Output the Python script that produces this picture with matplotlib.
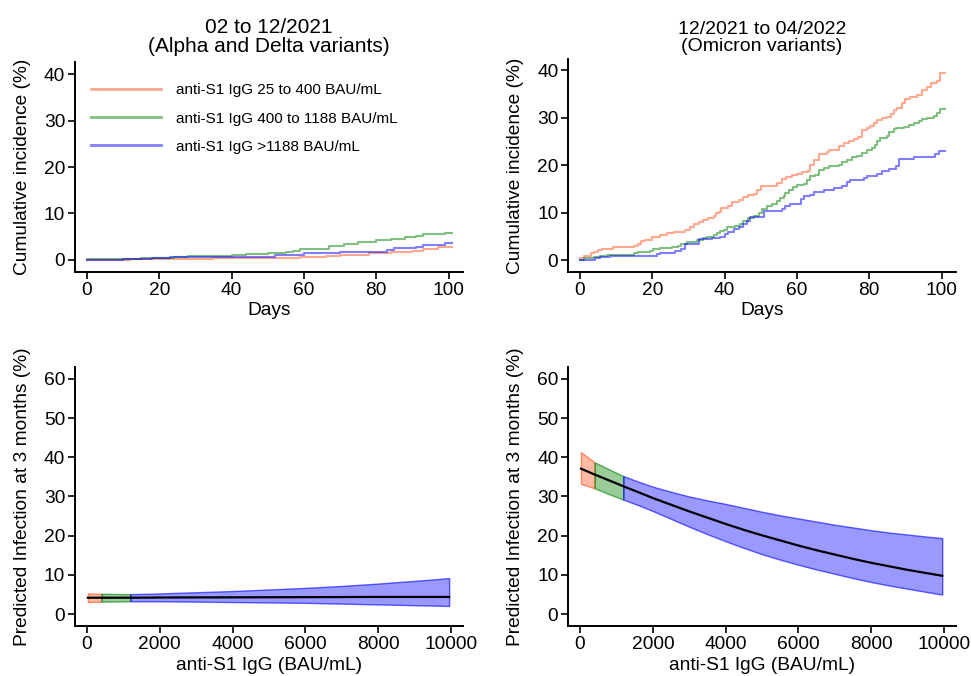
import numpy as np
import matplotlib
matplotlib.use("Agg")
from matplotlib import pyplot as plt

plt.rcParams['font.family'] = ['Liberation Sans', 'DejaVu Sans']

# --- cumulative incidence, 02 to 12/2021 (day, %) step points
alpha_low_days = [0, 12, 35, 59, 66, 70, 78, 84, 90, 93, 97, 101]
alpha_low_vals = [0.0, 0.1, 0.4, 0.6, 0.8, 1.1, 1.5, 1.7, 2.0, 2.4, 2.7, 2.7]
alpha_mid_days = [0, 3, 11, 15, 22, 24, 28, 37, 40, 44, 50, 55, 57, 59, 67, 71, 75, 80, 84, 88, 91, 93, 99, 101]
alpha_mid_vals = [0.1, 0.2, 0.3, 0.4, 0.5, 0.6, 0.8, 0.9, 1.1, 1.3, 1.5, 1.7, 2.0, 2.4, 3.0, 3.4, 3.8, 4.3, 4.6, 4.9, 5.2, 5.6, 5.8, 5.8]
alpha_high_days = [0, 10, 18, 23, 35, 52, 60, 70, 78, 83, 85, 91, 93, 99, 101]
alpha_high_vals = [0.0, 0.2, 0.4, 0.6, 0.7, 1.0, 1.5, 1.7, 1.8, 2.1, 2.5, 2.8, 3.3, 3.6, 3.6]

# --- cumulative incidence, 12/2021 to 04/2022
omi_low_days = [0, 1, 3, 4, 5, 6, 9, 15, 16, 17, 18, 20, 22, 24, 26, 29, 30.5, 31.5, 33, 34, 35.5, 37, 37.5,
                38.5, 39, 41, 42, 44, 45, 46.5, 48, 49, 50, 54.5, 56, 57, 58.6, 60, 61.4, 63, 63.7, 64.6, 66,
                68.3, 69, 71.5, 73, 74.3, 75.7, 77, 78, 79.4, 80.3, 81.3, 82.2, 83.6, 85, 85.9, 86.8, 87.7,
                89, 90, 91.4, 93.3, 94.6, 96, 97, 98.8, 99.7, 101]
omi_low_vals = [0.5, 0.8, 1.4, 1.8, 2.1, 2.4, 2.7, 3.0, 3.5, 4.0, 4.3, 4.8, 5.3, 5.7, 6.0, 6.3, 6.9, 7.6, 8.0, 8.4,
                8.8, 9.2, 9.9, 10.2, 10.9, 11.3, 12.3, 12.7, 13.3, 13.7, 14.0, 14.7, 15.7, 16.3, 17.1, 17.4,
                17.9, 18.2, 18.5, 18.7, 20.0, 21.0, 22.4, 22.7, 23.2, 24.0, 24.6, 25.0, 25.4, 25.9, 27.3, 27.8,
                28.3, 28.8, 29.4, 29.8, 30.2, 30.7, 31.5, 32.1, 33.0, 34.0, 34.4, 34.8, 35.8, 36.5, 37.2, 37.7,
                39.3, 39.3]
omi_mid_days = [0, 1, 4, 5.5, 7.4, 15, 16, 19.5, 20.3, 22, 25.4, 27, 28, 29.5, 32.3, 34, 35, 37, 38, 38.8, 39.7,
                40.6, 43, 44.3, 45.2, 46.6, 48, 49.4, 50.3, 51.7, 53, 54.5, 55.4, 56.3, 56.8, 57.7, 59, 60, 62,
                62.8, 63.7, 65, 66, 67.4, 68.8, 71.6, 72.5, 73.9, 75.3, 76.6, 78, 79.4, 80.8, 81.7, 82.2, 83,
                85, 85.4, 86.8, 87.3, 89.6, 91, 92.3, 93.7, 94.6, 96, 97.8, 98.8, 99.7, 101]
omi_mid_vals = [0.1, 0.4, 0.7, 0.9, 1.1, 1.4, 1.7, 2.0, 2.3, 2.6, 2.7, 3.0, 3.5, 3.9, 4.2, 4.6, 4.9, 5.3, 5.7, 6.1,
                6.4, 6.9, 7.2, 7.7, 8.3, 8.9, 9.3, 10.0, 10.8, 11.3, 11.9, 12.5, 13.1, 13.5, 14.2, 14.7, 15.3,
                15.8, 16.1, 16.9, 17.6, 18.0, 19.0, 19.3, 19.8, 20.1, 20.6, 21.0, 21.6, 21.9, 22.6, 23.1, 23.5,
                24.3, 25.1, 25.7, 26.2, 26.9, 27.5, 27.8, 28.1, 28.5, 28.8, 29.2, 29.6, 29.9, 30.3, 31.0, 31.7,
                31.7]
omi_high_days = [0, 4.2, 5.5, 8.3, 21.2, 22, 26.3, 28, 29, 33, 36.5, 38.8, 40.2, 41, 42.5, 43.9, 45.2, 46.2, 47,
                 50.8, 56, 56.8, 58.2, 61, 61.9, 63.7, 64.6, 67.4, 70.2, 72.5, 73.9, 74.8, 78.5, 79.4, 82.2,
                 83.6, 85.4, 87.3, 88.2, 92.3, 98.3, 99.3, 101]
omi_high_vals = [0.0, 0.4, 0.7, 0.8, 1.2, 1.5, 2.0, 2.3, 3.4, 4.4, 4.6, 4.9, 5.4, 6.0, 6.5, 7.0, 7.5, 8.3, 9.0,
                 10.3, 10.7, 11.3, 11.9, 12.9, 13.4, 13.8, 14.3, 14.7, 15.2, 15.7, 16.4, 16.9, 17.3, 17.8, 18.2,
                 18.7, 19.2, 19.9, 21.3, 21.8, 22.4, 22.9, 22.9]

# --- predicted infection at 3 months vs anti-S1 IgG
igg = [25, 400, 800, 1188, 1600, 2000, 2500, 3000, 3500, 4000, 4500, 5000, 5500, 6000, 6500, 7000,
       7500, 8000, 8500, 9000, 9500, 9950]
ad_pred = [4.2, 4.2, 4.2, 4.2, 4.22, 4.25, 4.27, 4.28, 4.29, 4.3, 4.31, 4.32, 4.33, 4.35, 4.36, 4.37,
           4.38, 4.4, 4.4, 4.4, 4.4, 4.4]
ad_upper = [5.3, 5.2, 5.15, 5.1, 5.2, 5.3, 5.45, 5.6, 5.75, 5.9, 6.1, 6.3, 6.5, 6.7, 6.95, 7.2, 7.5,
            7.8, 8.15, 8.5, 8.85, 9.2]
ad_lower = [3.1, 3.2, 3.25, 3.3, 3.3, 3.3, 3.25, 3.2, 3.15, 3.1, 3.05, 3.0, 2.95, 2.9, 2.8, 2.7, 2.6,
            2.5, 2.4, 2.3, 2.2, 2.1]
om_pred = [37.1, 35.6, 34.1, 32.6, 31.1, 29.6, 27.9, 26.2, 24.6, 23.0, 21.5, 20.1, 18.8, 17.5, 16.3, 15.2,
           14.1, 13.1, 12.2, 11.3, 10.5, 9.8]
om_upper = [41.3, 38.7, 36.9, 35.2, 33.8, 32.5, 31.2, 30.0, 29.0, 28.1, 27.1, 26.1, 25.2, 24.4, 23.6, 22.8,
            22.1, 21.4, 20.8, 20.3, 19.8, 19.4]
om_lower = [33.2, 32.1, 30.6, 29.2, 27.8, 26.3, 24.3, 22.3, 20.4, 18.6, 16.9, 15.3, 13.9, 12.6, 11.4, 10.3,
            9.2, 8.2, 7.3, 6.5, 5.7, 5.0]
cut_low, cut_high = 400, 1188

groups = ['anti-S1 IgG 25 to 400 BAU/mL', 'anti-S1 IgG 400 to 1188 BAU/mL', 'anti-S1 IgG >1188 BAU/mL']
colors = [(1.0, 0.33, 0.12), (0.0, 0.5, 0.0), (0.0, 0.0, 1.0)]

FS = 13.8


def style(ax):
    for s in ['top', 'right']:
        ax.spines[s].set_visible(False)
    for s in ['left', 'bottom']:
        ax.spines[s].set_linewidth(1.4)
        ax.spines[s].set_color('black')
    ax.tick_params(direction='out', length=5, width=1.2, labelsize=FS, colors='black', pad=2)


fig = plt.figure(figsize=(9.71, 6.76), dpi=100)
W = 0.3996
ax1 = fig.add_axes([0.0772, 0.5976, W, 0.3107])
ax2 = fig.add_axes([0.585, 0.5976, W, 0.315])
ax3 = fig.add_axes([0.0772, 0.074, W, 0.3831])
ax4 = fig.add_axes([0.585, 0.074, W, 0.3831])

# top row: Kaplan-Meier style steps
for ax, sets in [(ax1, [(alpha_low_days, alpha_low_vals), (alpha_mid_days, alpha_mid_vals),
                        (alpha_high_days, alpha_high_vals)]),
                 (ax2, [(omi_low_days, omi_low_vals), (omi_mid_days, omi_mid_vals),
                        (omi_high_days, omi_high_vals)])]:
    for (d, v), c, lab in zip(sets, colors, groups):
        ax.step(d, v, where='post', color=c, alpha=0.5, lw=1.5, label=lab)
    ax.set_xlim(-3.3, 104)
    ax.set_xticks([0, 20, 40, 60, 80, 100])
    ax.set_yticks([0, 10, 20, 30, 40])
    ax.set_xlabel('Days', fontsize=FS, labelpad=2)
    ax.set_ylabel('Cumulative incidence (%)', fontsize=FS, labelpad=9)
    style(ax)
ax1.set_ylim(-2.6, 42.6)
ax2.set_ylim(-2.5, 42.3)

leg = ax1.legend(loc='upper left', frameon=False, fontsize=11, handlelength=4.6, handletextpad=1.0,
                 labelspacing=0.93, bbox_to_anchor=(-0.015, 1.0), borderaxespad=1.0)
for h in leg.get_lines():
    h.set_linewidth(2)

ax1.set_title('02 to 12/2021\n(Alpha and Delta variants)', fontsize=15, pad=7, linespacing=1.0)
ax2.set_title('12/2021 to 04/2022\n(Omicron variants)', fontsize=14, pad=6, linespacing=1.0)

# bottom row: predicted infection with confidence bands
igg_a = np.array(igg)
for ax, pred, up, lo in [(ax3, ad_pred, ad_upper, ad_lower), (ax4, om_pred, om_upper, om_lower)]:
    up = np.array(up)
    lo = np.array(lo)
    masks = [igg_a <= cut_low, (igg_a >= cut_low) & (igg_a <= cut_high), igg_a >= cut_high]
    for m, c in zip(masks, colors):
        ax.fill_between(igg_a[m], lo[m], up[m], facecolor=c + (0.4,), edgecolor=c + (0.6,), lw=1)
    ax.plot(igg, pred, color='black', lw=1.6)
    ax.set_xlim(-330, 10330)
    ax.set_ylim(-3, 63)
    ax.set_xticks([0, 2000, 4000, 6000, 8000, 10000])
    ax.set_yticks([0, 10, 20, 30, 40, 50, 60])
    ax.set_xlabel('anti-S1 IgG (BAU/mL)', fontsize=FS, labelpad=3)
    ax.set_ylabel('Predicted Infection at 3 months (%)', fontsize=FS, labelpad=9)
    style(ax)

fig.savefig('out.png', dpi=100)
